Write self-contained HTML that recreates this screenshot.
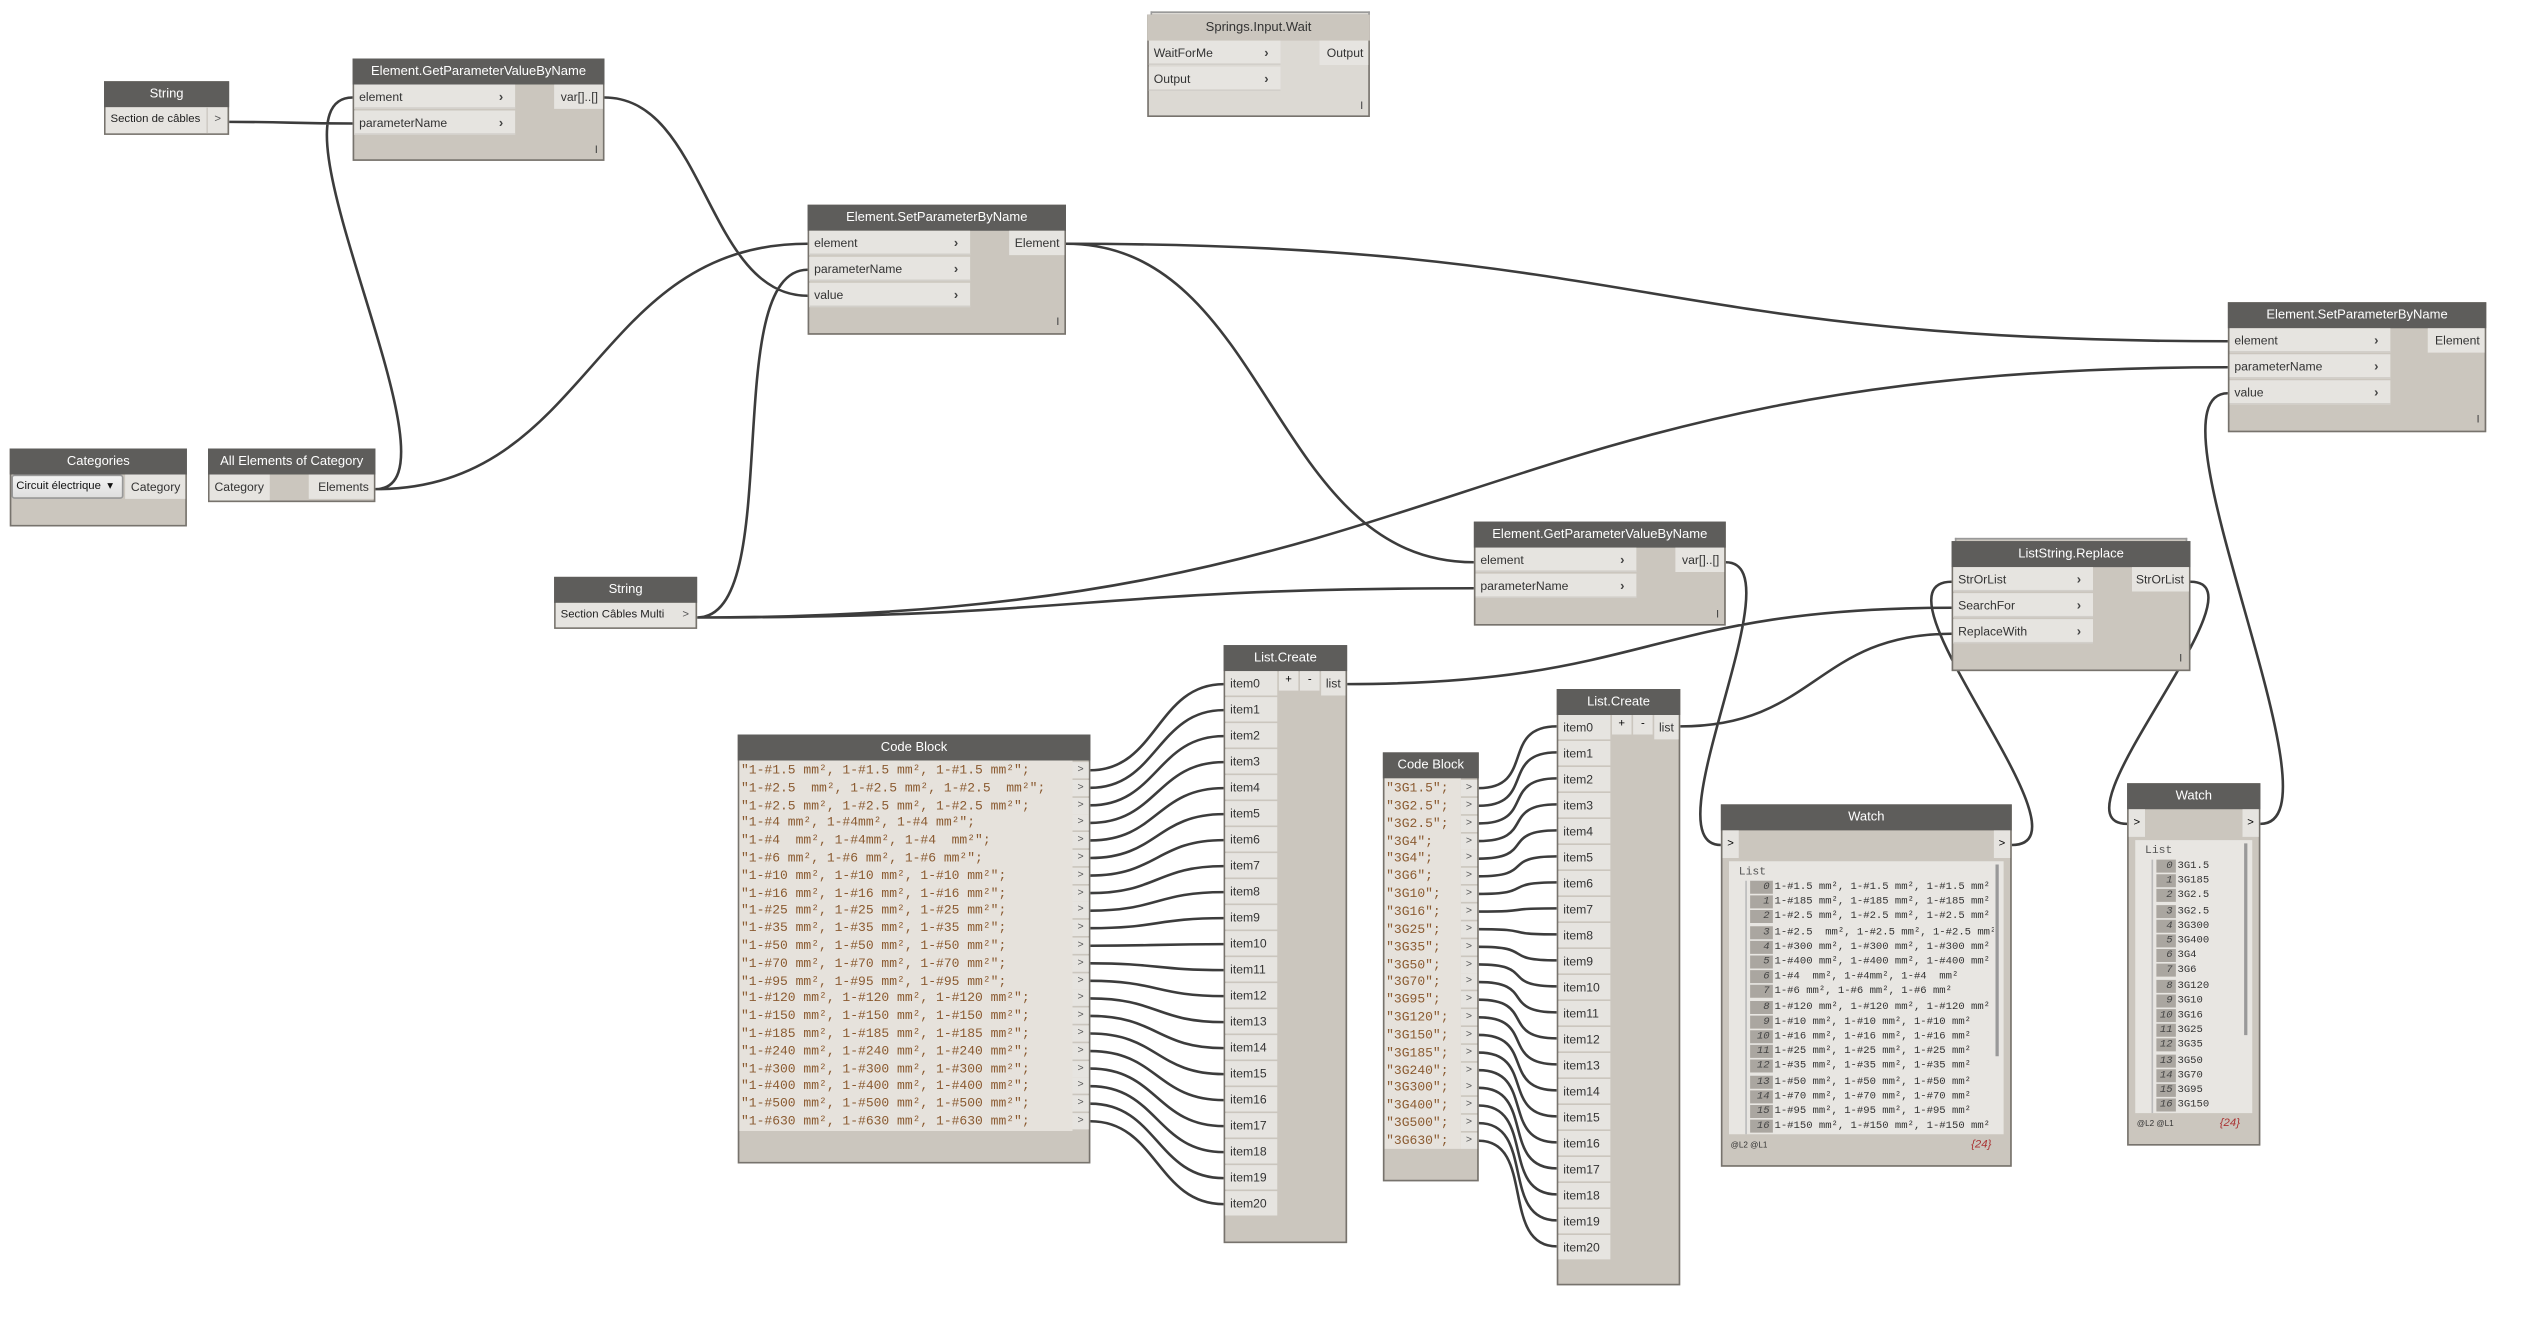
<!DOCTYPE html>
<html><head><meta charset="utf-8"><style>
html,body{margin:0;padding:0;background:#fff}
body{width:2548px;height:1328px;overflow:hidden;position:relative}
#c{position:absolute;left:0;top:0;width:1568px;height:818px;transform:scale(1.625);transform-origin:0 0;font-family:"Liberation Sans",sans-serif}
.b{position:absolute;box-sizing:border-box;overflow:hidden;white-space:pre}
svg{position:absolute;left:0;top:0}
</style></head><body><div id="c"><svg id="w" width="1568" height="818"></svg></div>
<script>
const C=document.getElementById('c');
function box(x,y,w,h,css,txt){const d=document.createElement('div');d.className='b';d.style.cssText=`left:${x}px;top:${y}px;width:${w}px;height:${h}px;`+(css||'');if(txt!==undefined)d.textContent=txt;C.appendChild(d);return d;}
function node(x,y,w,h,t,light){
 box(x,y,w,h,`background:${light?'#dcd9d3':'#cbc6be'};border:1px solid #77736d;`);
 box(x,y,w,16,`background:${light?'#cbc6be':'#5e5d5b'};color:${light?'#333':'#fff'};font-size:8px;text-align:center;line-height:16px;`,t);
}
function inRow(x,y,w,l){box(x+1,y,w,15,'background:#e6e4e0;border-bottom:1px solid #d2cfca;font-size:7.5px;color:#333;line-height:15px;padding-left:3px;',l);
 box(x+w-9,y,8,15,'font-size:8px;color:#444;line-height:15px;font-weight:bold','›');}
function outRow(x,y,w,l){box(x,y,w-1,15,'background:#e6e4e0;font-size:7.5px;color:#333;line-height:15px;text-align:right;padding-right:3px;',l);}
function foot(x,y){box(x,y,4,8,'font-size:7px;color:#444','I');}
node(64,50,77,33,'String');
box(65,66,75,16,'background:#e6e4e0;font-size:7px;color:#222;line-height:16px;padding-left:3px','Section de câbles');
box(127,66,13,16,'font-size:7px;color:#555;line-height:16px;text-align:center;border-left:1px solid #d0ccc6','>');
node(217,36,155,63,'Element.GetParameterValueByName');
inRow(217,52,99,'element');inRow(217,68,99,'parameterName');outRow(341,52,31,'var[]..[]');foot(366,89);
box(708,7,135,4,'border:1px solid #999;border-bottom:none;background:#dcd9d3');
node(706,9,137,63,'Springs.Input.Wait',true);
inRow(706,25,81,'WaitForMe');inRow(706,41,81,'Output');outRow(812,25,31,'Output');foot(837,62);
node(497,126,159,80,'Element.SetParameterByName');
inRow(497,142,99,'element');inRow(497,158,99,'parameterName');inRow(497,174,99,'value');outRow(621,142,35,'Element');foot(650,195);
node(6,276,109,48,'Categories');
box(7,292,69,15,'background:linear-gradient(#f4f4f4,#dedede);border:1px solid #999;border-radius:2px;font-size:7px;line-height:13px;padding-left:2px;color:#111','Circuit électrique  ▾');
outRow(77,292,38,'Category');
node(128,276,103,33,'All Elements of Category');
box(129,292,37,16,'background:#e6e4e0;font-size:7.5px;line-height:16px;padding-left:3px;color:#333','Category');
outRow(190,292,41,'Elements');
node(341,355,88,32,'String');
box(342,371,86,15,'background:#e6e4e0;font-size:7px;color:#222;line-height:15px;padding-left:3px','Section Câbles Multi');
box(416,371,12,15,'font-size:7px;color:#555;line-height:15px;text-align:center','>');
node(1371,186,159,80,'Element.SetParameterByName');
inRow(1371,202,99,'element');inRow(1371,218,99,'parameterName');inRow(1371,234,99,'value');outRow(1494,202,36,'Element');foot(1524,255);
node(907,321,155,64,'Element.GetParameterValueByName');
inRow(907,337,99,'element');inRow(907,353,99,'parameterName');outRow(1031,337,31,'var[]..[]');foot(1056,375);
box(1203,331,143,4,'border:1px solid #999;border-bottom:none;background:#cbc6be');
node(1201,333,147,80,'ListString.Replace');
inRow(1201,349,86,'StrOrList');inRow(1201,365,86,'SearchFor');inRow(1201,381,86,'ReplaceWith');outRow(1312,349,36,'StrOrList');foot(1341,402);
const L1=['1.5','2.5','2.5','4','4','6','10','16','25','35','50','70','95','120','150','185','240','300','400','500','630'];
const cb1=L1.map(v=>`"1-#${v} mm², 1-#${v} mm², 1-#${v} mm²";`);
cb1[1]='"1-#2.5  mm², 1-#2.5 mm², 1-#2.5  mm²";';cb1[3]='"1-#4 mm², 1-#4mm², 1-#4 mm²";';cb1[4]='"1-#4  mm², 1-#4mm², 1-#4  mm²";';
node(454,452,217,264,'Code Block');
box(455,468,205,228,'background:#e6e2dc');
const code='font-family:"Liberation Mono",monospace;font-size:8px;color:#8a5a30;';
cb1.forEach((t,i)=>{box(456,469+i*10.8,204,11,code+'line-height:11px',t);box(660,469+i*10.8,10,10,'background:#e6e4e0;font-size:6.5px;color:#555;text-align:center;line-height:10px','>');});
const L2=L1.map(v=>`"3G${v}";`);
node(851,463,59,264,'Code Block');
box(852,479,47,228,'background:#e6e2dc');
L2.forEach((t,i)=>{box(853,480+i*10.85,46,11,code+'line-height:11px',t);box(899,480+i*10.85,10,10,'background:#e6e4e0;font-size:6.5px;color:#555;text-align:center;line-height:10px','>');});
function lc(x,y,h){node(x,y,76,h,'List.Create');
 for(let i=0;i<21;i++)box(x+1,y+16+i*16,32,15,'background:#e6e4e0;font-size:7.5px;color:#333;line-height:15px;padding-left:3px','item'+i);
 box(x+34,y+16,12,12,'background:#e6e4e0;font-size:7px;text-align:center;line-height:12px','+');
 box(x+47,y+16,12,12,'background:#e6e4e0;font-size:7px;text-align:center;line-height:12px','-');
 box(x+60,y+16,15,15,'background:#e6e4e0;font-size:7.5px;color:#333;text-align:center;line-height:15px','list');}
lc(753,397,368);lc(958,424,367);
function watch(x,y,w,h,items,off){node(x,y,w,h,'Watch');
 box(x+1,y+16,10,17,'background:#e6e4e0;font-size:7px;line-height:17px;text-align:center','>');
 box(x+w-11,y+16,10,17,'background:#e6e4e0;font-size:7px;line-height:17px;text-align:center','>');
 const ly=y+35,lh=h-55;box(x+5,ly,w-10,lh,'background:#e8e6e2');
 box(x+w-10,ly+2,2,lh*0.7,'background:#999');
 box(x+11,ly+3,40,9,'font-family:"Liberation Mono",monospace;font-size:7px;color:#555;line-height:9px','List');
 box(x+15,ly+12,1,lh-12,'background:#bbb');
 items.forEach((t,i)=>{const yy=ly+12+i*9.2;if(yy>ly+lh-4)return;
  box(x+18,yy,off,8,'background:#aaa6a0;font-family:"Liberation Mono",monospace;font-size:6.5px;font-style:italic;color:#444;text-align:right;padding-right:2px;line-height:8px',String(i));
  box(x+19+off,yy,w-30-off,Math.min(9,ly+lh-yy),'font-family:"Liberation Mono",monospace;font-size:6.5px;color:#333;line-height:8px',t);});
 box(x+6,y+h-17,30,8,'font-size:5px;color:#333;line-height:8px','@L2 @L1');
 box(x+w-25,y+h-18,20,9,'font-size:7px;color:#a33;font-style:italic;line-height:9px','{24}');}
const W1=['1.5','185','2.5','2.5','300','400','4','6','120','10','16','25','35','50','70','95','150'].map(v=>`1-#${v} mm², 1-#${v} mm², 1-#${v} mm²`);
W1[3]='1-#2.5  mm², 1-#2.5 mm², 1-#2.5 mm²';W1[6]='1-#4  mm², 1-#4mm², 1-#4  mm²';
watch(1059,495,179,223,W1,14);
const W2=['1.5','185','2.5','2.5','300','400','4','6','120','10','16','25','35','50','70','95','150'].map(v=>'3G'+v);
watch(1309,482,82,223,W2,12);
const S=document.getElementById('w');let p='';
function wire(x1,y1,x2,y2,m){const o=Math.max(Math.abs(x2-x1)*0.5,m||35);p+=`M${x1} ${y1}C${x1+o} ${y1} ${x2-o} ${y2} ${x2} ${y2}`;}
wire(141,75,217,76);
wire(231,301,217,60,60);wire(231,301,497,150);
wire(372,60,497,182);
wire(429,380,497,166,55);wire(429,380,907,362);wire(429,380,1371,226);
wire(656,150,1371,210);wire(656,150,907,346);
wire(1062,346,1059,520,45);
wire(829,421,1201,374);wire(1034,447,1201,390);
wire(1238,520,1201,358,55);wire(1348,358,1309,507,50);wire(1391,507,1371,242,55);
for(let i=0;i<21;i++){wire(671,474+i*10.8,753,421+i*16);wire(910,485+i*10.85,958,447+i*16);}
S.innerHTML=`<path d="${p}" fill="none" stroke="#3c3c3c" stroke-width="1.6"/>`;
</script></body></html>
